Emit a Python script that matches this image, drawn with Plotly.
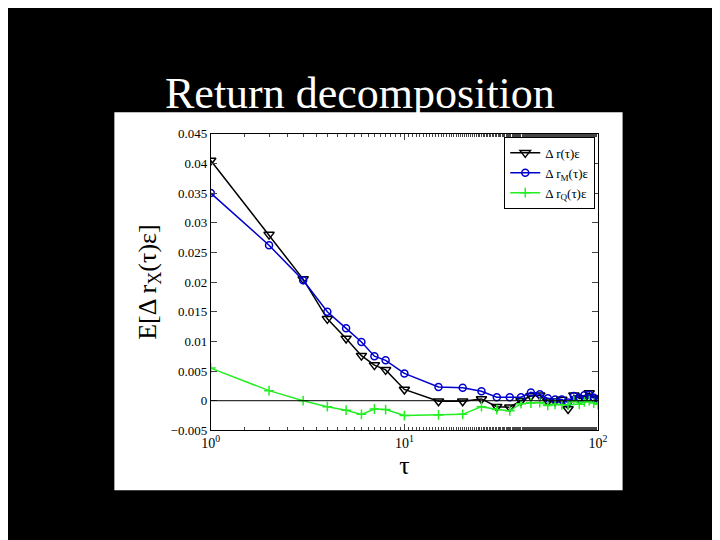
import plotly.graph_objects as go

tau = [1, 2, 3, 4, 5, 6, 7, 8, 10, 15, 20, 25, 30, 35, 40, 45, 50, 55, 60, 65, 70, 75, 80, 85, 90, 95, 100]
dr = [0.0405, 0.028, 0.0205, 0.0138, 0.0105, 0.0076, 0.006, 0.0052, 0.0019,
      -0.0001, -0.0001, 0.0003, -0.001, -0.0011, 0.0, 0.0008, 0.0009, -0.0001, -0.0001,
      0.0002, -0.0014, 0.0009, 0.0004, 0.0004, 0.0013, 0.0004, 0.0002]
dr_m = [0.035, 0.0262, 0.0203, 0.015, 0.0122, 0.0099, 0.0075, 0.0068, 0.0046,
        0.0023, 0.0022, 0.0016, 0.0006, 0.0006, 0.0006, 0.0014, 0.0011, 0.0004, 0.0002,
        0.0002, -0.0003, 0.0008, 0.0005, 0.0009, 0.001, 0.0005, 0.0003]
dr_q = [0.0055, 0.0017, 0.0, -0.001, -0.0016, -0.0023, -0.0014, -0.0015, -0.0025,
        -0.0024, -0.0023, -0.001, -0.0015, -0.0017, -0.0005, -0.0004, -0.0003, -0.0008, -0.0006,
        -0.0007, -0.0007, 0.0, -0.0006, -0.0002, 0.0, -0.0004, -0.0006]

serif = "Liberation Serif, Times New Roman, serif"

# page body has an 8px margin, so shift everything up/left to compensate
dx = 8 / 720
dy = 8 / 540

fig = go.Figure()
fig.add_trace(go.Scatter(x=tau, y=dr, name="Δ r(τ)ε", mode="lines+markers",
                         line=dict(color="black", width=1.5),
                         marker=dict(symbol="triangle-down-open", size=9, color="black", line=dict(width=1.5))))
fig.add_trace(go.Scatter(x=tau, y=dr_m, name="Δ r<sub>M</sub>(τ)ε", mode="lines+markers",
                         line=dict(color="#0000cc", width=1.5),
                         marker=dict(symbol="circle-open", size=7, color="#0000cc", line=dict(width=1.5))))
fig.add_trace(go.Scatter(x=tau, y=dr_q, name="Δ r<sub>Q</sub>(τ)ε", mode="lines+markers",
                         line=dict(color="#22ee22", width=1.5),
                         marker=dict(symbol="cross-thin-open", size=7, color="#22ee22", line=dict(width=1.5))))

x0, x1 = 0.2875 - dx, 0.840 - dx
y0, y1 = 0.194 + dy, 0.759 + dy

fig.update_layout(
    width=720, height=540, paper_bgcolor="black", plot_bgcolor="white",
    margin=dict(l=0, r=0, t=0, b=0),
    font=dict(family=serif, color="black", size=13),
    shapes=[
        dict(type="rect", xref="paper", yref="paper", x0=0.15 - dx, x1=0.875 - dx, y0=0.08 + dy, y1=0.80 + dy,
             fillcolor="white", line=dict(width=0), layer="below"),
        dict(type="line", xref="paper", yref="y", x0=x0, x1=x1, y0=0, y1=0,
             line=dict(color="black", width=1)),
    ],
    annotations=[
        dict(text="Return decomposition", xref="paper", yref="paper", x=0.5 - dx, y=0.835 + dy,
             showarrow=False, font=dict(family=serif, size=44, color="white"), yanchor="middle"),
    ],
    legend=dict(x=x1 - 0.004, y=y1 - 0.006, xanchor="right", yanchor="top", bgcolor="white",
                bordercolor="black", borderwidth=1, font=dict(size=13)),
    xaxis=dict(type="log", domain=[x0, x1], range=[0, 2],
               tickvals=[1, 10, 100], ticktext=["10<sup>0</sup>", "10<sup>1</sup>", "10<sup>2</sup>"],
               ticks="inside", ticklen=6, mirror="ticks", showline=True, linecolor="black",
               showgrid=False, zeroline=False, tickfont=dict(size=14),
               minor=dict(ticks="inside", ticklen=3, showgrid=False),
               title=dict(text="τ", font=dict(size=26), standoff=2)),
    yaxis=dict(domain=[y0, y1], range=[-0.005, 0.045],
               tickvals=[-0.005 + 0.005 * i for i in range(11)],
               ticktext=["−0.005", "0", "0.005", "0.01", "0.015", "0.02", "0.025", "0.03", "0.035", "0.04", "0.045"],
               ticks="inside", ticklen=6, mirror="ticks", showline=True, linecolor="black",
               showgrid=False, zeroline=False, tickfont=dict(size=13),
               title=dict(text="E[Δ r<sub>X</sub>(τ)ε]", font=dict(size=26), standoff=6)),
)

fig.write_html("out.html")
